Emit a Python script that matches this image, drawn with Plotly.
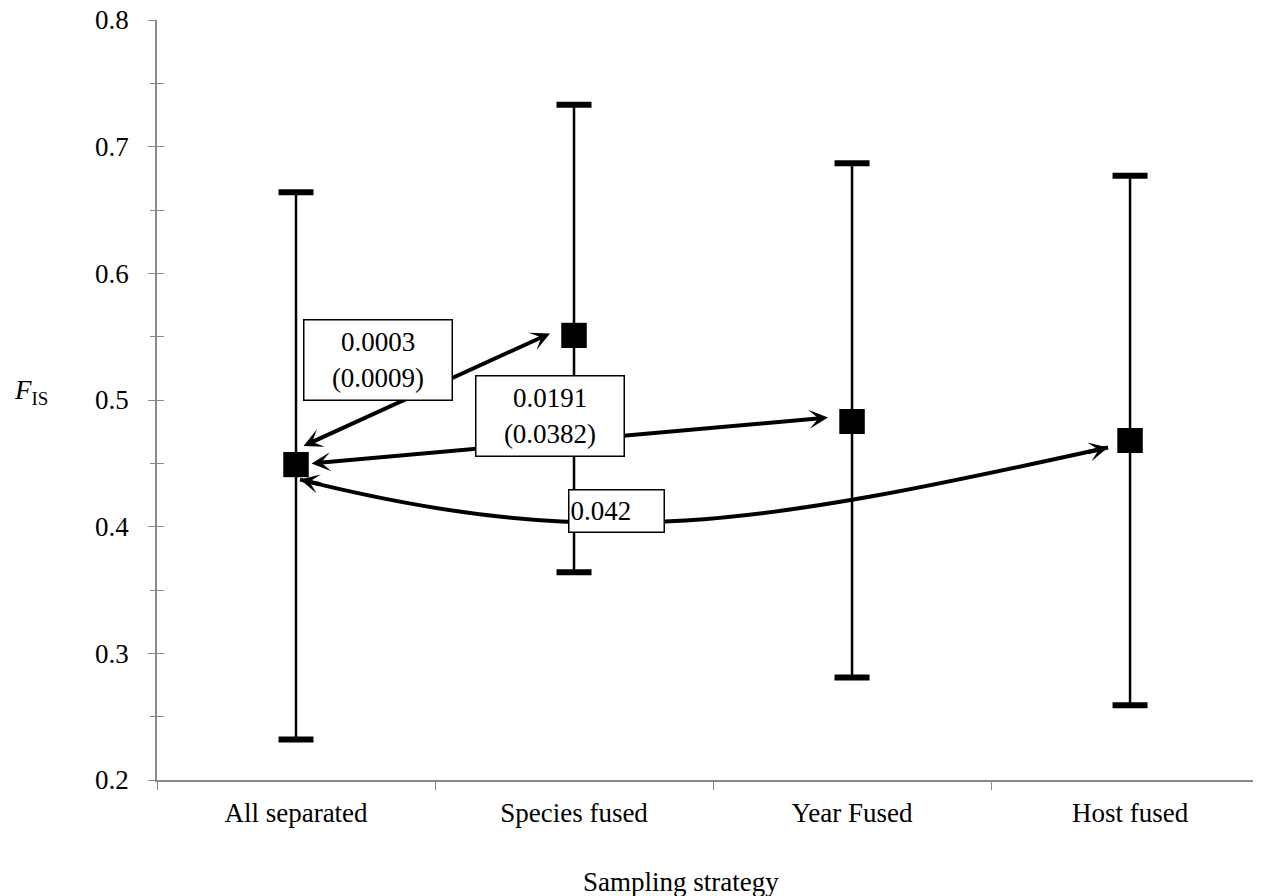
import plotly.graph_objects as go

# ---------------- data ----------------
categories = ["All separated", "Species fused", "Year Fused", "Host fused"]
fis_mean = [0.449, 0.551, 0.483, 0.468]
ci_upper = [0.664, 0.733, 0.687, 0.677]
ci_lower = [0.232, 0.364, 0.281, 0.259]
comparison_labels = ["0.0003<br>(0.0009)", "0.0191<br>(0.0382)", "0.042"]
y_ticks = [0.2, 0.3, 0.4, 0.5, 0.6, 0.7, 0.8]

# ---------------- layout geometry ----------------
PAGE_OFF = 8                       # browser body margin
W, H = 1261 - PAGE_OFF, 896 - PAGE_OFF
REF_L, REF_T, REF_B = 157, 20, 780  # plot edges in page pixels
ML, MT = REF_L - PAGE_OFF, REF_T - PAGE_OFF
MB = H - (REF_B - PAGE_OFF)
MR = 0
X_RANGE = [-0.5, 3.471]
Y_RANGE = [0.2, 0.8]
plot_w = W - ML - MR
plot_h = H - MT - MB
PX_X = plot_w / (X_RANGE[1] - X_RANGE[0])   # pixels per category
PX_Y = plot_h / (Y_RANGE[1] - Y_RANGE[0])   # pixels per unit of F_IS
X0_PX = REF_L + (0 - X_RANGE[0]) * PX_X     # page x of first category

def off(i, dx_px, dy_px):
    """point near category i's mean, shifted by screen pixels (dy down positive)"""
    return i + dx_px / PX_X, fis_mean[i] - dy_px / PX_Y

def page_to_data(px, py):
    return (px - X0_PX) / PX_X, Y_RANGE[1] - (py - REF_T) / PX_Y

def page_to_paper(px, py):
    return (px - REF_L) / plot_w, (REF_B - py) / plot_h

FONT = "Liberation Serif, Times New Roman, serif"
FS = 27

fig = go.Figure()

# stems
fig.add_trace(go.Scatter(
    x=categories, y=fis_mean, mode="markers",
    marker=dict(symbol="square", size=25, color="black"),
    error_y=dict(type="data", symmetric=False,
                 array=[u - m for u, m in zip(ci_upper, fis_mean)],
                 arrayminus=[m - l for m, l in zip(fis_mean, ci_lower)],
                 color="black", thickness=2.5, width=0),
    hoverinfo="skip", showlegend=False))

# caps
fig.add_trace(go.Scatter(
    x=categories + categories, y=ci_upper + ci_lower, mode="markers",
    marker=dict(symbol="line-ew", size=25, line=dict(width=6, color="black")),
    hoverinfo="skip", showlegend=False))

# invisible trace on overlay axis (for inner tick marks)
fig.add_trace(go.Scatter(x=[0], y=[0.5], yaxis="y2", mode="markers",
                         marker=dict(opacity=0), hoverinfo="skip", showlegend=False))

# redraw markers on top
fig.add_trace(go.Scatter(
    x=categories, y=fis_mean, mode="markers",
    marker=dict(symbol="square", size=25, color="black"),
    hoverinfo="skip", showlegend=False))

# ---------------- arrows ----------------
arrow_kw = dict(showarrow=True, text="", arrowcolor="black", arrowwidth=4,
                arrowhead=3, arrowsize=0.8, startarrowhead=3, startarrowsize=0.8,
                standoff=0, startstandoff=0, xref="x", yref="y", axref="x", ayref="y")

annotations = []
# All separated <-> Species fused
a0 = off(0, 6, -18); a1 = off(1, -24, -2)
annotations.append(dict(x=a1[0], y=a1[1], ax=a0[0], ay=a0[1], arrowside="end+start", **arrow_kw))
# All separated <-> Year Fused
b0 = off(0, 14, -1); b1 = off(2, -24, -4)
annotations.append(dict(x=b1[0], y=b1[1], ax=b0[0], ay=b0[1], arrowside="end+start", **arrow_kw))

# All separated <-> Host fused (curved)
c0 = off(0, 4, 15); c3 = off(3, -22, 7)
c1 = (c0[0] + 300 / PX_X, c0[1] - 75 / PX_Y)
c2 = (c3[0] - 350 / PX_X, c3[1] - 77 / PX_Y)
path = f"M {c0[0]},{c0[1]} C {c1[0]},{c1[1]} {c2[0]},{c2[1]} {c3[0]},{c3[1]}"
fig.add_shape(type="path", path=path, xref="x", yref="y",
              line=dict(color="black", width=4), layer="above")
single_kw = {k: v for k, v in arrow_kw.items() if k not in ("axref", "ayref")}
single_kw.update(axref="pixel", ayref="pixel")
annotations.append(dict(x=c0[0], y=c0[1], ax=22, ay=5, **single_kw))
annotations.append(dict(x=c3[0], y=c3[1], ax=-22, ay=5, **single_kw))

# ---------------- label boxes ----------------
box_kw = dict(showarrow=False, xref="x", yref="y", bgcolor="white",
              bordercolor="black", borderwidth=1.5, borderpad=1,
              font=dict(family=FONT, size=FS, color="black"))
bx, by = page_to_data(378, 360)
annotations.append(dict(x=bx, y=by, text=comparison_labels[0], width=145, height=77, **box_kw))
bx, by = page_to_data(550, 416)
annotations.append(dict(x=bx, y=by, text=comparison_labels[1], width=145, height=77, **box_kw))
bx, by = page_to_data(616, 511)
annotations.append(dict(x=bx, y=by, text=comparison_labels[2], width=92, height=39,
                        align="left", **box_kw))

# ---------------- axis titles ----------------
tx, ty = page_to_paper(681, 882)
annotations.append(dict(text="Sampling strategy", xref="paper", yref="paper",
                        x=tx, y=ty, xanchor="center", yanchor="middle", showarrow=False,
                        font=dict(family=FONT, size=FS, color="black")))
tx, ty = page_to_paper(12, 392)
annotations.append(dict(text="<i>F</i><sub>IS</sub>", xref="paper", yref="paper",
                        x=tx, y=ty, xanchor="left", yanchor="middle", showarrow=False,
                        font=dict(family=FONT, size=FS, color="black")))

fig.update_layout(
    width=W, height=H,
    margin=dict(l=ML, r=MR, t=MT, b=MB, pad=0, autoexpand=False),
    paper_bgcolor="white", plot_bgcolor="white",
    showlegend=False,
    font=dict(family=FONT, size=FS, color="black"),
    xaxis=dict(type="category", range=X_RANGE, tickson="boundaries",
               ticks="outside", ticklen=8, tickwidth=1, tickcolor="#888888",
               showline=True, linecolor="#888888", linewidth=1.5,
               showgrid=False, zeroline=False, ticklabelstandoff=8,
               automargin=False,
               tickfont=dict(family=FONT, size=FS, color="black"),
               fixedrange=True),
    yaxis=dict(range=Y_RANGE, tickvals=y_ticks, tickformat=".1f",
               ticks="outside", ticklen=7, tickwidth=1, tickcolor="#888888",
               minor=dict(dtick=0.05, ticks="outside", ticklen=5, tickwidth=1,
                          tickcolor="#888888", showgrid=False),
               showline=True, linecolor="#888888", linewidth=1.5,
               showgrid=False, zeroline=False, ticklabelstandoff=14,
               ticklabeloverflow="allow", automargin=False,
               tickfont=dict(family=FONT, size=FS, color="black"),
               fixedrange=True),
    yaxis2=dict(range=Y_RANGE, overlaying="y", side="left", dtick=0.05, tick0=0.2,
                ticks="inside", ticklen=7, tickwidth=1, tickcolor="#888888",
                showticklabels=False, showline=False, showgrid=False,
                zeroline=False, automargin=False, fixedrange=True),
    annotations=annotations,
)

fig.write_html("out.html")
